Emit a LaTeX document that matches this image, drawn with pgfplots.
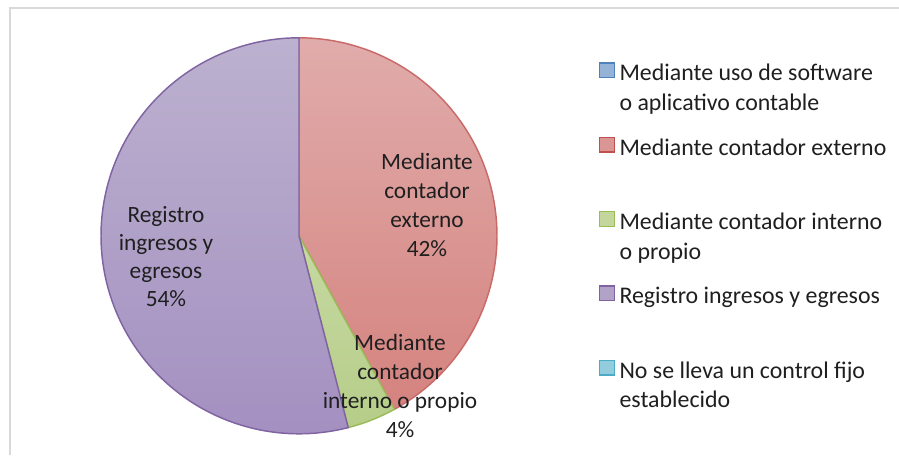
\documentclass[border=0pt]{standalone}
\usepackage{fontspec}
\setmainfont{Carlito}
\usepackage{pgfplots}
\pgfplotsset{compat=1.18}
\definecolor{txt}{HTML}{1F1F1F}
\definecolor{frame}{HTML}{D9D9D9}
\definecolor{bedge}{HTML}{4F81BD}\definecolor{bfill}{HTML}{95B3D7}
\definecolor{redge}{HTML}{C0504D}\definecolor{rfill}{HTML}{D99694}
\definecolor{rtop}{HTML}{E0ACAB}\definecolor{rbot}{HTML}{D5837F}
\definecolor{gedge}{HTML}{9BBB59}\definecolor{gfill}{HTML}{C3D69B}
\definecolor{gtop}{HTML}{C6D9A2}\definecolor{gbot}{HTML}{B6CD89}
\definecolor{pedge}{HTML}{8064A2}\definecolor{pfill}{HTML}{B3A2C7}
\definecolor{ptop}{HTML}{BCB1CF}\definecolor{pbot}{HTML}{A490C1}
\definecolor{cedge}{HTML}{4BACC6}\definecolor{cfill}{HTML}{93CDDD}
% data (percent)
\def\vSoft{0}
\def\vExt{42}
\def\vInt{4}
\def\vReg{54}
\def\vNo{0}
\newcommand\lbl{\fontsize{17.5}{21.2}\selectfont}
\newcommand\leg{\fontsize{17.9}{22.2}\selectfont}
\begin{document}
\begin{tikzpicture}
\pgfmathsetmacro\aA{90-3.6*\vSoft}
\pgfmathsetmacro\aB{\aA-3.6*\vExt}
\pgfmathsetmacro\aC{\aB-3.6*\vInt}
\pgfmathsetmacro\aD{\aC-3.6*\vReg}
\begin{axis}[scale only axis, width=674.25pt, height=341.25pt,
  xmin=0, xmax=899, ymin=0, ymax=455, hide axis, clip=false,
  legend cell align=left,
  legend image code/.code={\draw[#1] (0pt,6.6pt) rectangle (10.9pt,17.5pt);},
  legend style={at={(axis description cs:0.6663,0.8677)}, anchor=north west,
    draw=none, fill=none, inner sep=0pt, outer sep=0pt,
    font=\leg, text=txt, row sep=16.5pt, column sep=3.5pt,
    cells={align=left}, nodes={inner sep=0pt}}]
\coordinate (SW) at (axis cs:0,0);
\coordinate (NE) at (axis cs:899,455);
\draw[frame, line width=1.5pt] (axis cs:10,0) -- (axis cs:10,447) -- (axis cs:899,447);
\addlegendimage{fill=bfill, draw=bedge, line width=1pt}
\addlegendentry{\strut Mediante uso de software\\\strut o aplicativo contable}
\addlegendimage{fill=rfill, draw=redge, line width=1pt}
\addlegendentry{\strut Mediante contador externo\\\strut}
\addlegendimage{fill=gfill, draw=gedge, line width=1pt}
\addlegendentry{\strut Mediante contador interno\\\strut o propio}
\addlegendimage{fill=pfill, draw=pedge, line width=1pt}
\addlegendentry{\strut Registro ingresos y egresos\\\strut}
\addlegendimage{fill=cfill, draw=cedge, line width=1pt}
\addlegendentry{\strut No se lleva un control fijo\\\strut establecido}
% slices
\addplot[forget plot, draw=redge!85!white, line width=1.1pt, top color=rtop, bottom color=rbot,
  domain=\aB:\aA, samples=120] ({299+198*cos(x)},{219.2+198*sin(x)}) -- (axis cs:299,219.2) -- cycle;
\addplot[forget plot, draw=gedge, line width=1.1pt, top color=gtop, bottom color=gbot,
  domain=\aC:\aB, samples=20] ({299+198*cos(x)},{219.2+198*sin(x)}) -- (axis cs:299,219.2) -- cycle;
\addplot[forget plot, draw=pedge, line width=1.1pt, top color=ptop, bottom color=pbot,
  domain=\aD:\aC, samples=150] ({299+198*cos(x)},{219.2+198*sin(x)}) -- (axis cs:299,219.2) -- cycle;
% labels
\begin{scope}[every node/.style={anchor=base, font=\lbl, text=txt, inner sep=0pt}]
\node at (axis cs:427,285.5) {Mediante};
\node at (axis cs:427,257) {contador};
\node at (axis cs:427,228) {externo};
\node at (axis cs:427,199) {42\%};
\node at (axis cs:166,233) {Registro};
\node at (axis cs:166,205) {ingresos y};
\node at (axis cs:166,177) {egresos};
\node at (axis cs:166,149) {54\%};
\node at (axis cs:400,105) {Mediante};
\node at (axis cs:400,76) {contador};
\node at (axis cs:400,47) {interno o propio};
\node at (axis cs:400,18) {4\%};
\end{scope}
\end{axis}
\pgfresetboundingbox
\path[use as bounding box] (SW) rectangle (NE);
\end{tikzpicture}
\end{document}
